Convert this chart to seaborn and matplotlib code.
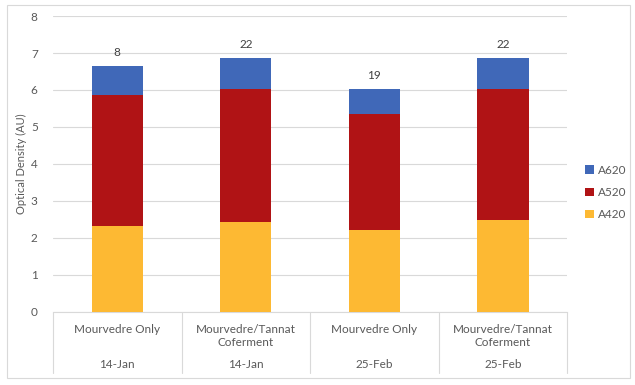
import pandas as pd
import numpy as np
import matplotlib
import matplotlib.pyplot as plt
import matplotlib.patches as patches
import seaborn as sns

matplotlib.use('Agg')

# Data
treatments = ['Mourvedre Only', 'Mourvedre/Tannat\nCoferment', 'Mourvedre Only', 'Mourvedre/Tannat\nCoferment']
dates = ['14-Jan', '14-Jan', '25-Feb', '25-Feb']
a420 = [2.33, 2.44, 2.20, 2.47]
a520 = [3.53, 3.59, 3.14, 3.56]
a620 = [0.78, 0.83, 0.69, 0.83]
top_labels = ['8', '22', '19', '22']

colors = {'A420': '#FDB933', 'A520': '#B01315', 'A620': '#4068B8'}
grey_text = '#595959'

sns.set_style('white')
plt.rcParams['font.family'] = ['Lato', 'DejaVu Sans']

df = pd.DataFrame({'pos': range(4), 'A420': a420, 'A520': a520, 'A620': a620})
df['c520'] = df['A420'] + df['A520']
df['c620'] = df['c520'] + df['A620']

fig = plt.figure(figsize=(6.35, 3.85), dpi=100)
ax = fig.add_axes([0.0835, 0.1904, 0.8095, 0.7678])

# Stacked bars drawn as overlapping cumulative layers
for col, name in [('c620', 'A620'), ('c520', 'A520'), ('A420', 'A420')]:
    sns.barplot(data=df, x='pos', y=col, color=colors[name], width=0.4,
                saturation=1, ax=ax, label=name, zorder=3, edgecolor='none')
handles, labels = ax.get_legend_handles_labels()
if ax.get_legend() is not None:
    ax.get_legend().remove()

for i, (total, lab) in enumerate(zip(df['c620'], top_labels)):
    ax.text(i, total + 0.22, lab, ha='center', va='bottom', fontsize=8.5, color='#404040')

ax.set_ylim(0, 8)
ax.set_xlim(-0.5, 3.5)
ax.set_yticks(range(0, 9))
ax.yaxis.grid(True, color='#D9D9D9', linewidth=0.8, zorder=0)
ax.set_axisbelow(True)
for s in ['top', 'right', 'left']:
    ax.spines[s].set_visible(False)
ax.spines['bottom'].set_color('#D9D9D9')
ax.tick_params(axis='y', length=0, labelsize=8.5, labelcolor=grey_text, pad=11)
ax.set_xticks([])
ax.set_xlabel('')
ax.set_ylabel('Optical Density (AU)', fontsize=8, color=grey_text, labelpad=3)

# Two-level category axis
trans = ax.get_xaxis_transform()
for i in range(4):
    ax.text(i, -0.04, treatments[i], transform=trans, ha='center', va='top',
            fontsize=8.5, color=grey_text, linespacing=1.25)
    ax.text(i, -0.18, dates[i], transform=trans, ha='center', va='center',
            fontsize=8.5, color=grey_text)
for xb in [-0.5, 0.5, 1.5, 2.5, 3.5]:
    ax.plot([xb, xb], [0, -0.207], transform=trans, color='#D9D9D9',
            linewidth=0.8, clip_on=False)

# Legend, reversed order like the reference
fig.legend(handles, labels, loc='center left', bbox_to_anchor=(0.905, 0.5),
           frameon=False, fontsize=8.5, handlelength=0.75, handleheight=0.75,
           handletextpad=0.3, labelspacing=0.95, labelcolor=grey_text)

# Chart border
fig.patches.append(patches.Rectangle((7 / 635, 1 - 378 / 385), 623 / 635, 373 / 385,
                                     transform=fig.transFigure, fill=False,
                                     edgecolor='#D9D9D9', linewidth=0.8))

plt.savefig('out.png', dpi=100)
